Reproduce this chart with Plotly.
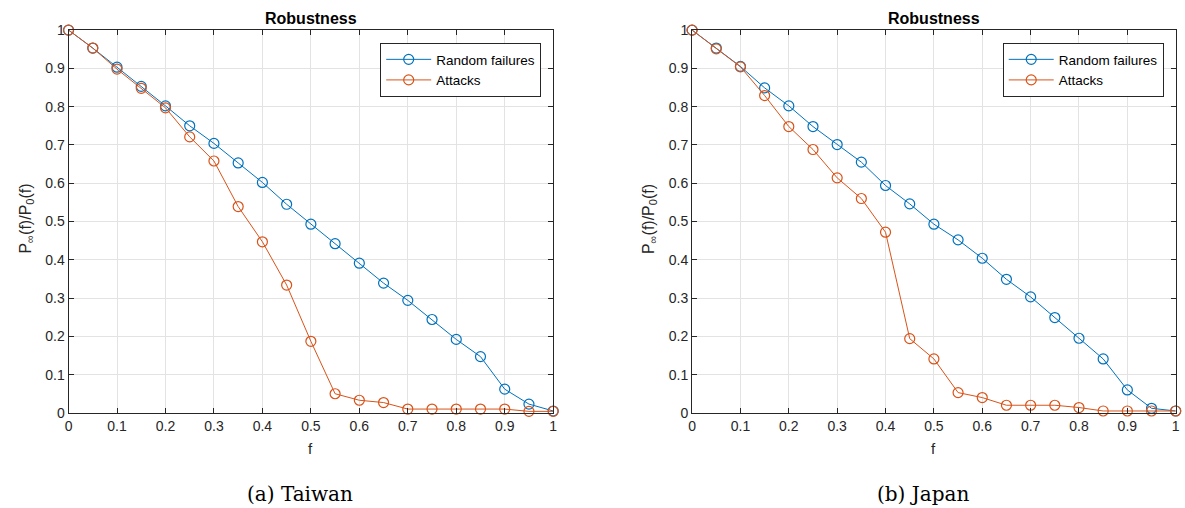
import plotly.graph_objects as go

f_vals = [0, 0.05, 0.1, 0.15, 0.2, 0.25, 0.3, 0.35, 0.4, 0.45, 0.5,
          0.55, 0.6, 0.65, 0.7, 0.75, 0.8, 0.85, 0.9, 0.95, 1.0]

taiwan_random = [1.0, 0.953, 0.903, 0.853, 0.802, 0.750, 0.704, 0.653, 0.602, 0.545, 0.493,
                 0.442, 0.391, 0.339, 0.294, 0.244, 0.192, 0.147, 0.062, 0.023, 0.005]
taiwan_attacks = [1.0, 0.953, 0.898, 0.848, 0.797, 0.721, 0.658, 0.539, 0.447, 0.334, 0.187,
                  0.050, 0.033, 0.027, 0.010, 0.010, 0.010, 0.010, 0.010, 0.004, 0.004]
japan_random = [1.0, 0.953, 0.905, 0.849, 0.802, 0.748, 0.701, 0.655, 0.594, 0.546, 0.493,
                0.452, 0.404, 0.349, 0.303, 0.249, 0.195, 0.141, 0.060, 0.012, 0.005]
japan_attacks = [1.0, 0.951, 0.904, 0.829, 0.748, 0.688, 0.614, 0.560, 0.472, 0.194, 0.141,
                 0.053, 0.040, 0.020, 0.020, 0.020, 0.014, 0.005, 0.005, 0.005, 0.005]

tick_vals = [0, 0.1, 0.2, 0.3, 0.4, 0.5, 0.6, 0.7, 0.8, 0.9, 1]
tick_text = ["0", "0.1", "0.2", "0.3", "0.4", "0.5", "0.6", "0.7", "0.8", "0.9", "1"]

BLUE = "#0072BD"
ORANGE = "#D95319"
AX = "#262626"
W, H = 1185, 508
SANS = "Liberation Sans, Arial, sans-serif"


def px(x):
    return (x - 3.4) / 0.994 / W


def py(y):
    return 1 - (y - 6.9) / 0.969 / H


fig = go.Figure()


def add(x, y, name, color, xa, ya, legend):
    fig.add_trace(go.Scatter(
        x=x, y=y, name=name, mode="lines+markers",
        line=dict(color=color, width=1),
        marker=dict(symbol="circle-open", size=10, color=color, line=dict(width=1.2, color=color)),
        xaxis=xa, yaxis=ya, legend=legend, showlegend=True, cliponaxis=False))


add(f_vals, taiwan_random, "Random failures", BLUE, "x", "y", "legend")
add(f_vals, taiwan_attacks, "Attacks", ORANGE, "x", "y", "legend")
add(f_vals, japan_random, "Random failures", BLUE, "x2", "y2", "legend2")
add(f_vals, japan_attacks, "Attacks", ORANGE, "x2", "y2", "legend2")

ydom = [py(412), py(29)]
x1dom = [px(68), px(553)]
x2dom = [px(692), min(px(1176), 1.0)]

axis_common = dict(
    range=[0, 1], tickvals=tick_vals, ticktext=tick_text,
    showgrid=True, gridcolor="#e3e3e3", gridwidth=1,
    showline=True, linecolor=AX, linewidth=1, mirror="ticks",
    ticks="inside", ticklen=5, tickcolor=AX, tickwidth=1,
    tickfont=dict(family=SANS, size=14, color=AX),
    zeroline=False, fixedrange=True,
)

legend_common = dict(
    xanchor="right", yanchor="top",
    bordercolor=AX, borderwidth=1, bgcolor="white",
    font=dict(family=SANS, size=13.5, color="#000"),
    tracegroupgap=0, itemwidth=45,
)

fig.update_layout(
    width=W, height=H,
    margin=dict(l=0, r=0, t=0, b=0),
    paper_bgcolor="white", plot_bgcolor="white",
    xaxis=dict(domain=x1dom, anchor="y", **axis_common),
    yaxis=dict(domain=ydom, anchor="x", **axis_common),
    xaxis2=dict(domain=x2dom, anchor="y2", **axis_common),
    yaxis2=dict(domain=ydom, anchor="x2", **axis_common),
    legend=dict(x=px(541), y=py(42), **legend_common),
    legend2=dict(x=px(1164), y=py(42), **legend_common),
)

ann_font = dict(family=SANS, size=15, color=AX)
for cx, yx, cap in [((68 + 553) / 2, 26, "(a) Taiwan"), ((692 + 1176) / 2, 650, "(b) Japan")]:
    common = dict(xref="paper", yref="paper", showarrow=False, xanchor="center", yanchor="middle")
    fig.add_annotation(x=px(cx), y=py(17), text="<b>Robustness</b>",
                       font=dict(family=SANS, size=16, color="#000"), **common)
    fig.add_annotation(x=px(cx), y=py(448), text="f", font=ann_font, **common)
    fig.add_annotation(x=px(yx), y=py(218),
                       text="P<sub>∞</sub>(f)/P<sub>0</sub>(f)", textangle=-90,
                       font=dict(family=SANS, size=16, color=AX), **common)
    fig.add_annotation(x=px(cx - 11), y=py(493), text=cap,
                       font=dict(family="DejaVu Serif, Liberation Serif, serif", size=20, color="#000"),
                       **common)

fig.write_html("out.html")
